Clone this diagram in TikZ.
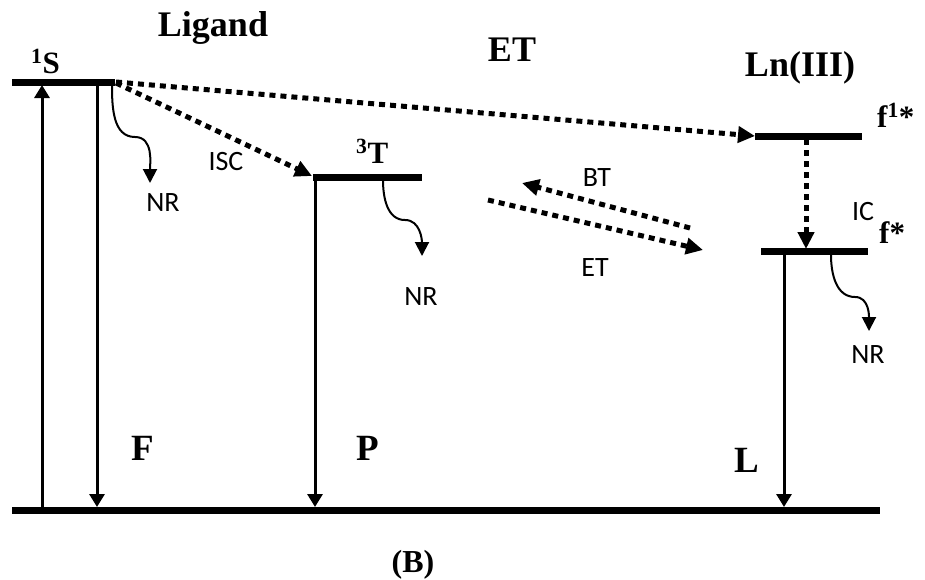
\documentclass[tikz,border=0pt]{standalone}
\usepackage{fontspec}
\setmainfont{Liberation Serif}
\newfontfamily\labfont{Carlito}
\usetikzlibrary{arrows.meta}
\begin{document}
\begin{tikzpicture}[x=1pt,y=-1pt,
  lvl/.style={line width=7pt},
  solidarr/.style={line width=3pt,-{Triangle[length=13pt,width=15pt]}},
  dotarr/.style={line width=5pt,dash pattern=on 6pt off 5pt,-{Triangle[length=17pt,width=16pt]}},
  nrarr/.style={line width=2pt,-{Triangle[length=14pt,width=14pt]}},
  title/.style={font=\fontsize{36}{36}\selectfont\bfseries, inner sep=0pt},
  statel/.style={font=\fontsize{31}{31}\selectfont\bfseries, inner sep=0pt},
  emis/.style={font=\fontsize{37}{37}\selectfont\bfseries, inner sep=0pt},
  proc/.style={font=\labfont\fontsize{28}{28}\selectfont, inner sep=0pt}]
\useasboundingbox (0,0) rectangle (925,579);
% levels
\coordinate (S1a) at (12,82);  \coordinate (S1b) at (115,82);
\coordinate (T3a) at (313,177); \coordinate (T3b) at (422,177);
\coordinate (F1a) at (755,136); \coordinate (F1b) at (862,136);
\coordinate (Fa) at (761,251);  \coordinate (Fb) at (868,251);
\coordinate (Ga) at (12,510);   \coordinate (Gb) at (880,510);
\draw[lvl] (S1a) -- (S1b);
\draw[lvl] (T3a) -- (T3b);
\draw[lvl] (F1a) -- (F1b);
\draw[lvl] (Fa) -- (Fb);
\draw[lvl] (Ga) -- (Gb);
% vertical transitions
\coordinate (absB) at (42,510);  \coordinate (absT) at (42,85);
\coordinate (fluT) at (97,85);   \coordinate (fluB) at (97,507);
\coordinate (phoT) at (315,180); \coordinate (phoB) at (315,507);
\coordinate (lumT) at (784,254); \coordinate (lumB) at (784,507);
\draw[solidarr] (absB) -- (absT);
\draw[solidarr] (fluT) -- (fluB);
\draw[solidarr] (phoT) -- (phoB);
\draw[solidarr] (lumT) -- (lumB);
% non-radiative
\coordinate (nr1s) at (112,85);  \coordinate (nr1m) at (135,137); \coordinate (nr1e) at (150,183);
\coordinate (nr2s) at (383,180); \coordinate (nr2m) at (405,220); \coordinate (nr2e) at (422,256);
\coordinate (nr3s) at (831,255); \coordinate (nr3m) at (855,297); \coordinate (nr3e) at (869,331);
\draw[nrarr] (nr1s) to[out=-90,in=180] (nr1m) to[out=0,in=90] (nr1e);
\draw[nrarr] (nr2s) to[out=-90,in=180] (nr2m) to[out=0,in=90] (nr2e);
\draw[nrarr] (nr3s) to[out=-90,in=180] (nr3m) to[out=0,in=90] (nr3e);
% dotted transfers
\coordinate (etS) at (116,82);  \coordinate (etE) at (755,136);
\coordinate (iscS) at (116,83); \coordinate (iscE) at (312,176);
\coordinate (icS) at (806,139); \coordinate (icE) at (806,249);
\coordinate (btS) at (690,228); \coordinate (btE) at (522,183);
\coordinate (et2S) at (488,200); \coordinate (et2E) at (703,250);
\draw[dotarr] (etS) -- (etE);
\draw[dotarr] (iscS) -- (iscE);
\draw[dotarr] (icS) -- (icE);
\draw[dotarr] (btS) -- (btE);
\draw[dotarr] (et2S) -- (et2E);
% labels
\node[title] (lig) at (213,28) {Ligand};
\node[title] (lnl) at (800,68) {Ln(III)};
\node[title] (etl) at (512,50) {ET};
\node[statel, anchor=base west] (s1l) at (31,73) {\textsuperscript{1}S};
\node[statel, anchor=base west] (t3l) at (356,163) {\textsuperscript{3}T};
\node[statel, anchor=base west] (f1l) at (877,127) {f\textsuperscript{1}*};
\node[statel, anchor=base west] (fl) at (879,243) {f*};
\node[emis, anchor=base] (Fl) at (143,460) {F};
\node[emis, anchor=base] (Pl) at (368,460) {P};
\node[emis, anchor=base] (Ll) at (747,472) {L};
\node[title, font=\fontsize{32}{32}\selectfont\bfseries] (Bl) at (413,565) {(B)};
\node[proc] (iscl) at (226,162) {ISC};
\node[proc] (nr1l) at (163,203) {NR};
\node[proc] (nr2l) at (421,297) {NR};
\node[proc] (nr3l) at (868,355) {NR};
\node[proc] (btl) at (597,178) {BT};
\node[proc] (et2l) at (595,268) {ET};
\node[proc] (icl) at (863,212) {IC};
\end{tikzpicture}
\end{document}
